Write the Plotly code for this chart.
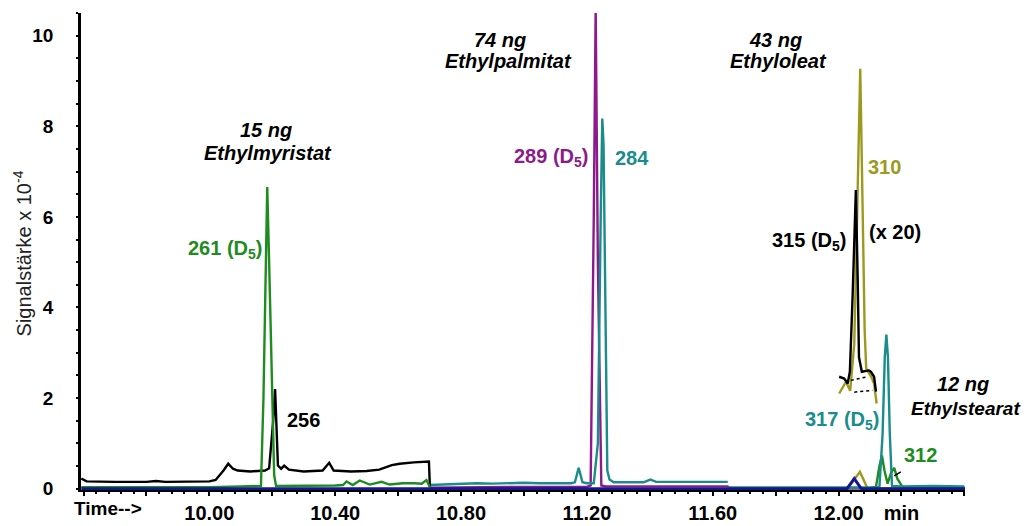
import plotly.graph_objects as go

# ---------------- data (time in min, signal x 10^-4) ----------------
# m/z 256 (Ethylmyristat, black)
t256 = [9.593, 9.61, 9.70, 9.80, 9.83, 9.86, 10.00, 10.02, 10.045, 10.06, 10.075, 10.09, 10.13, 10.177,
        10.19, 10.203, 10.209, 10.213, 10.218, 10.228, 10.238, 10.253, 10.30, 10.36, 10.381, 10.395,
        10.45, 10.50, 10.54, 10.58, 10.605, 10.65, 10.69, 10.698, 10.701]
v256 = [0.22, 0.16, 0.15, 0.15, 0.17, 0.15, 0.16, 0.19, 0.40, 0.55, 0.44, 0.40, 0.38, 0.40,
        0.45, 1.5, 2.2, 1.6, 0.51, 0.44, 0.51, 0.42, 0.38, 0.40, 0.57, 0.40,
        0.38, 0.39, 0.42, 0.52, 0.55, 0.58, 0.60, 0.60, 0.04]

# m/z 261 (D5, green)
t261 = [9.593, 9.80, 10.00, 10.10, 10.164, 10.172, 10.180, 10.184, 10.190, 10.198, 10.206, 10.212,
        10.30, 10.40, 10.425, 10.436, 10.456, 10.478, 10.51, 10.547, 10.573, 10.615, 10.653, 10.675,
        10.690, 10.701]
v261 = [0.03, 0.03, 0.03, 0.05, 0.06, 2.0, 5.8, 6.66, 5.0, 2.5, 0.3, 0.06,
        0.06, 0.07, 0.08, 0.16, 0.08, 0.18, 0.09, 0.15, 0.09, 0.12, 0.12, 0.11,
        0.19, 0.03]

# m/z 284 (Ethylpalmitat, teal)
t284 = [10.701, 10.75, 10.80, 10.85, 10.90, 10.95, 11.00, 11.05, 11.10, 11.15, 11.162, 11.174, 11.186,
        11.20, 11.222, 11.235, 11.244, 11.249, 11.253, 11.258, 11.265, 11.272, 11.285, 11.38, 11.402,
        11.42, 11.50, 11.60, 11.648]
v284 = [0.08, 0.09, 0.10, 0.12, 0.11, 0.12, 0.13, 0.12, 0.12, 0.12, 0.14, 0.46, 0.14,
        0.12, 0.12, 1.0, 6.0, 8.17, 7.6, 4.0, 0.4, 0.2, 0.14, 0.14, 0.20,
        0.15, 0.15, 0.15, 0.15]

# m/z 289 (D5, purple)
t289 = [10.701, 10.80, 11.00, 11.20, 11.212, 11.222, 11.228, 11.235, 11.246, 11.26, 11.40, 11.60,
        11.648, 11.655, 12.12]
v289 = [0.02, 0.03, 0.04, 0.04, 0.07, 6.0, 10.6, 5.0, 0.07, 0.05, 0.05, 0.05,
        0.05, 0.0, 0.0]

# m/z 310 (Ethyloleat, olive)
t310 = [11.65, 12.00, 12.029, 12.068, 12.092, 12.40]
v310 = [0.01, 0.01, 0.01, 0.37, 0.01, 0.01]

# m/z 315 (D5, dark blue)
t315 = [9.593, 12.027, 12.050, 12.072, 12.402]
v315 = [0.0, 0.0, 0.22, 0.0, 0.0]

# m/z 310 x 20 (olive, offset)
t310x = [12.002, 12.024, 12.037, 12.050, 12.059, 12.069, 12.077, 12.083, 12.088, 12.104, 12.113, 12.121]
v310x = [2.10, 2.36, 2.16, 3.2, 6.0, 9.27, 6.0, 3.5, 2.65, 2.47, 2.32, 1.88]

# m/z 315 x 20 (black, offset)
t315x = [12.002, 12.018, 12.029, 12.036, 12.045, 12.055, 12.061, 12.065, 12.074, 12.097, 12.103, 12.113, 12.119]
v315x = [2.47, 2.43, 2.32, 2.58, 4.3, 6.59, 4.6, 2.9, 2.58, 2.61, 2.58, 2.47, 2.14]

# integration baselines (dotted)
tbase1 = [12.039, 12.092]
vbase1 = [2.39, 2.47]
tbase2 = [12.050, 12.108]
vbase2 = [2.13, 2.17]

# m/z 312 (Ethylstearat, green)
t312 = [11.65, 11.90, 12.10, 12.119, 12.130, 12.138, 12.146, 12.156, 12.167, 12.177, 12.187, 12.203, 12.25, 12.40]
v312 = [0.02, 0.02, 0.02, 0.04, 0.5, 0.73, 0.4, 0.11, 0.35, 0.46, 0.22, 0.04, 0.03, 0.03]

# m/z 317 (D5, teal)
t317 = [11.648, 11.80, 12.00, 12.10, 12.130, 12.140, 12.147, 12.152, 12.157, 12.163, 12.170, 12.20, 12.30, 12.40]
v317 = [0.02, 0.02, 0.02, 0.02, 0.04, 1.2, 2.9, 3.4, 2.9, 1.2, 0.06, 0.05, 0.06, 0.05]

# pointer for label 312
tptr = [12.198, 12.177]
vptr = [0.37, 0.28]

x_tickvals = [9.6, 9.8, 10.0, 10.2, 10.4, 10.6, 10.8, 11.0, 11.2, 11.4, 11.6, 11.8, 12.0, 12.2, 12.4]
x_ticktext = ["", "", "10.00", "", "10.40", "", "10.80", "", "11.20", "", "11.60", "", "12.00", "min", ""]
y_tickvals = [0, 2, 4, 6, 8, 10]
y_ticktext = ["0", "2", "4", "6", "8", "10"]

# ---------------- colours ----------------
BLACK = "#000000"
GREEN = "#1f8c1f"
TEAL = "#1a8c8c"
PURPLE = "#8c1a8c"
OLIVE = "#9c9a1e"
NAVY = "#16168c"

fig = go.Figure()

def line(t, v, color, width=2.4, dash="solid"):
    fig.add_trace(go.Scatter(x=t, y=v, mode="lines",
                             line=dict(color=color, width=width, dash=dash),
                             hoverinfo="skip", showlegend=False))

line(t310, v310, OLIVE)
line(t289, v289, PURPLE)
line(t284, v284, TEAL)
line(t256, v256, BLACK)
line(t261, v261, GREEN)
line(t312, v312, GREEN)
line(t317, v317, TEAL)
line(t315, v315, NAVY, width=3)
line(t310x, v310x, OLIVE)
line(t315x, v315x, BLACK)
line(tbase1, vbase1, BLACK, width=1.5, dash="dot")
line(tbase2, vbase2, BLACK, width=1.5, dash="dot")
line(tptr, vptr, BLACK, width=1.5)

FONT = "Liberation Sans, Arial, sans-serif"

def ann(x, y, text, color=BLACK, xanchor="center", size=20, xref="x", yref="y", angle=0):
    fig.add_annotation(x=x, y=y, xref=xref, yref=yref, text=text, showarrow=False,
                       xanchor=xanchor, yanchor="middle", textangle=angle,
                       font=dict(family=FONT, size=size, color=color))

ann(10.180, 7.92, "<b><i>15 ng</i></b>")
ann(10.186, 7.40, "<b><i>Ethylmyristat</i></b>")
ann(10.177, 5.28, "<b>261 (D<sub>5</sub>)</b>", GREEN, "right")
ann(10.240, 1.51, "<b>256</b>", BLACK, "left")
ann(10.923, 9.91, "<b><i>74 ng</i></b>")
ann(10.952, 9.43, "<b><i>Ethylpalmitat</i></b>")
ann(11.214, 7.30, "<b>289 (D<sub>5</sub>)</b>", PURPLE, "right")
ann(11.282, 7.31, "<b>284</b>", TEAL, "left")
ann(11.799, 9.91, "<b><i>43 ng</i></b>")
ann(11.808, 9.43, "<b><i>Ethyloleat</i></b>")
ann(12.087, 7.10, "<b>310</b>", OLIVE, "left")
ann(12.034, 5.46, "<b>315 (D<sub>5</sub>)</b>", BLACK, "right")
ann(12.091, 5.67, "<b>(x 20)</b>", BLACK, "left")
ann(0.998, 2.32, "<b><i>12 ng</i></b>", xref="paper")
ann(1.0645, 1.77, "<b><i>Ethylstearat</i></b>", BLACK, "right", 19, xref="paper")
ann(12.139, 1.51, "<b>317 (D<sub>5</sub>)</b>", TEAL, "right")
ann(12.201, 0.74, "<b>312</b>", GREEN, "left")
ann(-0.0102, -0.038, "<b>Time--></b>", BLACK, "left", 19, "paper", "paper")
ann(-0.0667, 0.496, "Signalstärke x 10<sup>-4</sup>", "#222222", "center", 20, "paper", "paper", -90)

# page has an 8px body margin: figure is sized/offset so the plot area lands at
# x 81..965, y 13..490 of the 1029x526 window
fig.update_layout(
    width=1021, height=518,
    margin=dict(l=73, r=64, t=5, b=36),
    paper_bgcolor="white", plot_bgcolor="white",
    showlegend=False,
    font=dict(family=FONT, color=BLACK),
    xaxis=dict(range=[9.592, 12.402], showgrid=False, zeroline=False, automargin=False,
               showline=True, linecolor=BLACK, linewidth=2,
               ticks="outside", ticklen=4, tickwidth=1.5, tickcolor=BLACK,
               tickvals=x_tickvals, ticktext=x_ticktext,
               tickfont=dict(family=FONT, size=20, color=BLACK, weight="bold"),
               minor=dict(dtick=0.04, tick0=9.6, ticks="outside", ticklen=2, tickwidth=1.5, tickcolor=BLACK),
               layer="below traces"),
    yaxis=dict(range=[-0.03, 10.50], showgrid=False, zeroline=False, automargin=False,
               showline=True, linecolor=BLACK, linewidth=2.5,
               ticks="outside", ticklen=2, tickwidth=1.5, tickcolor=BLACK,
               tickvals=y_tickvals, ticktext=y_ticktext,
               ticklabelstandoff=19,
               tickfont=dict(family=FONT, size=19, color=BLACK, weight="bold"),
               minor=dict(dtick=0.5, tick0=0, ticks="outside", ticklen=2, tickwidth=1.5, tickcolor=BLACK),
               layer="below traces"),
)

fig.write_html("out.html")
